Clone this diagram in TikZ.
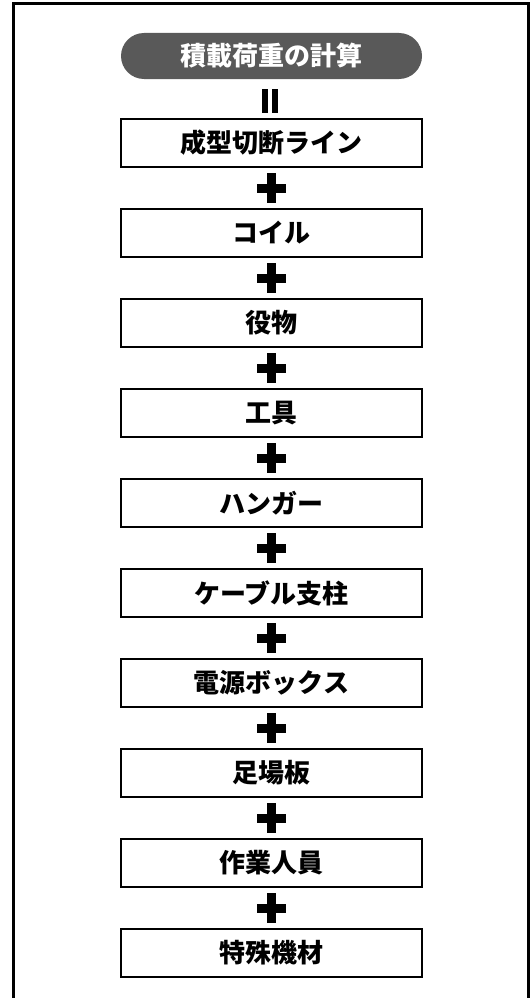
\documentclass[tikz,border=0pt]{standalone}
\usepackage{fontspec}
\setmainfont{Noto Sans CJK JP}
\definecolor{pillgray}{HTML}{595959}
\begin{document}
\begin{tikzpicture}[x=1pt,y=-1pt,
  itembox/.style={draw=black,line width=2pt,fill=white,minimum width=301pt,minimum height=48pt,inner sep=0pt,
    font=\fontsize{26}{26}\selectfont\bfseries},
  titlepill/.style={fill=pillgray,rounded corners=23pt,minimum width=301pt,minimum height=46pt,inner sep=0pt,
    text=white,font=\fontsize{26}{26}\selectfont\bfseries},
  symbolfill/.style={fill=black}]
\useasboundingbox (0,0) rectangle (531,998);
\fill[white] (0,0) rectangle (531,998);
\begin{scope}
\clip (0,0) rectangle (531,998);
\draw[line width=3pt] (13.5,1010) -- (13.5,4) -- (528.5,4) -- (528.5,1010);
\end{scope}
\node[titlepill] (title) at (271.5,56) {積載荷重の計算};
% equals sign (vertical)
\coordinate (eq) at (270,100.5);
\fill[symbolfill] ([shift={(-8,-12)}]eq) rectangle ([shift={(-2,12)}]eq);
\fill[symbolfill] ([shift={(2,-12)}]eq) rectangle ([shift={(8,12)}]eq);
\node[itembox] (b1) at (271.5,143) {成型切断ライン};
\node[itembox] (b2) at (271.5,233) {コイル};
\node[itembox] (b3) at (271.5,323) {役物};
\node[itembox] (b4) at (271.5,413) {工具};
\node[itembox] (b5) at (271.5,503) {ハンガー};
\node[itembox] (b6) at (271.5,593) {ケーブル支柱};
\node[itembox] (b7) at (271.5,683) {電源ボックス};
\node[itembox] (b8) at (271.5,773) {足場板};
\node[itembox] (b9) at (271.5,863) {作業人員};
\node[itembox] (b10) at (271.5,953) {特殊機材};
% plus signs
\foreach \k in {0,...,8} {
  \coordinate (p\k) at (271.5,{188+90*\k});
  \fill[symbolfill] ([shift={(-4.5,-15)}]p\k) rectangle ([shift={(4.5,15)}]p\k);
  \fill[symbolfill] ([shift={(-14.5,-4.5)}]p\k) rectangle ([shift={(14.5,4.5)}]p\k);
}
\end{tikzpicture}
\end{document}
